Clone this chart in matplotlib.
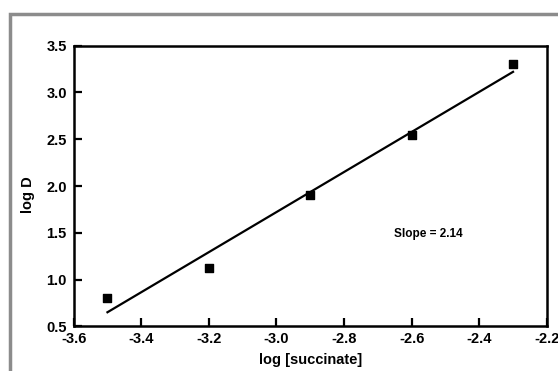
import matplotlib.pyplot as plt
import numpy as np
from matplotlib.patches import Rectangle

# data
log_succinate = [-3.5, -3.2, -2.9, -2.6, -2.3]
log_d = [0.80, 1.13, 1.90, 2.55, 3.30]
x_ticks = [-3.6, -3.4, -3.2, -3.0, -2.8, -2.6, -2.4, -2.2]
y_ticks = [0.5, 1.0, 1.5, 2.0, 2.5, 3.0, 3.5]

plt.rcParams['font.family'] = ['Liberation Sans', 'DejaVu Sans']
plt.rcParams['font.weight'] = 'bold'

fig = plt.figure(figsize=(5.58, 3.71), dpi=100)
ax = fig.add_axes([0.132, 0.120, 0.848, 0.757])

''' gray frame around the plot '''
frame = Rectangle((10 / 558, -0.2), 1.2, 1 - 14 / 371 + 0.2, transform=fig.transFigure,
                  fill=False, edgecolor='#8c8c8c', linewidth=2.5, clip_on=False)
fig.patches.append(frame)

ax.scatter(log_succinate, log_d, marker='s', s=28, color='black', zorder=3)

''' fitted line '''
k, b = np.polyfit(log_succinate, log_d, 1)
xs = np.array([log_succinate[0], log_succinate[-1]])
ax.plot(xs, k * xs + b, color='black', linewidth=1.6)

ax.text(-2.55, 1.49, 'Slope = %.2f' % k, ha='center', va='center', fontsize=8.5, fontweight='bold')

ax.set_xlim(-3.6, -2.2)
ax.set_ylim(0.5, 3.5)
ax.set_xticks(x_ticks)
ax.set_yticks(y_ticks)
ax.set_xticklabels(['%.1f' % t for t in x_ticks])
ax.set_yticklabels(['%.1f' % t for t in y_ticks])
ax.tick_params(direction='in', length=6, width=1.6, labelsize=10.5)
ax.tick_params(axis='x', pad=4)
ax.tick_params(axis='y', pad=5)
for s in ax.spines.values():
    s.set_linewidth(1.8)

ax.set_xlabel('log [succinate]', fontsize=10.5, fontweight='bold', labelpad=5)
ax.set_ylabel('log D', fontsize=10.5, fontweight='bold')
ax.yaxis.set_label_coords(-0.082, 0.47)

fig.savefig('out.png', dpi=100)
